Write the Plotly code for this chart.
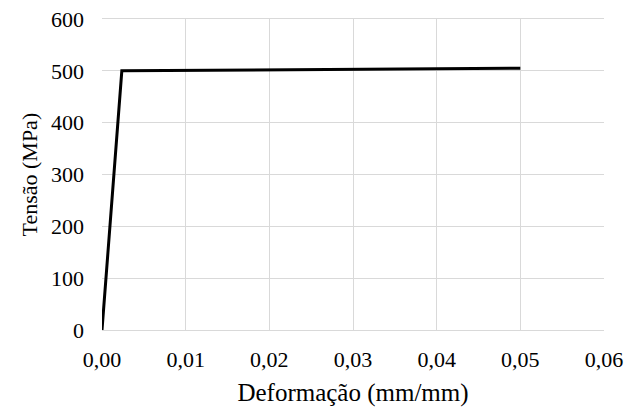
import plotly.graph_objects as go

deformacao = [0.0, 0.00237, 0.05]
tensao = [0, 500, 505]

x_ticks = [0, 0.01, 0.02, 0.03, 0.04, 0.05, 0.06]
y_ticks = [0, 100, 200, 300, 400, 500, 600]

font = "Liberation Serif"
grid = "#d9d9d9"
tick_font = dict(family=font, size=22, color="black")
xtitle_font = dict(family=font, size=25, color="black")
ytitle_font = dict(family=font, size=22, color="black")

fig = go.Figure()
fig.add_trace(go.Scatter(x=deformacao, y=tensao, mode="lines",
                         line=dict(color="black", width=3), showlegend=False))

fig.update_layout(
    width=627, height=410,
    margin=dict(l=102, r=23, t=19, b=80, autoexpand=False),
    paper_bgcolor="white", plot_bgcolor="white",
    separators=",.",
    font=dict(family=font, size=22, color="black"),
    xaxis=dict(range=[0, 0.06], tickvals=x_ticks, tickformat=".2f",
               showgrid=True, gridcolor=grid, gridwidth=1,
               showline=True, linecolor=grid, linewidth=1, mirror=True,
               zeroline=False, automargin=True,
               ticks="outside", ticklen=10, tickcolor="rgba(0,0,0,0)",
               tickfont=tick_font,
               title=dict(text="Deformação (mm/mm)", standoff=12, font=xtitle_font)),
    yaxis=dict(range=[0, 600], tickvals=y_ticks,
               anchor="free", position=0, shift=-18,
               showgrid=True, gridcolor=grid, gridwidth=1,
               showline=False, zeroline=False, automargin=False, ticks="",
               tickfont=tick_font),
    annotations=[dict(text="Tensão (MPa)", textangle=-90, showarrow=False,
                      xref="paper", yref="paper", x=0, y=0.5,
                      xanchor="center", yanchor="middle", xshift=-73,
                      font=ytitle_font)],
)

fig.write_html("out.html", config={"displayModeBar": False},
               post_script="document.body.style.margin='0';")
